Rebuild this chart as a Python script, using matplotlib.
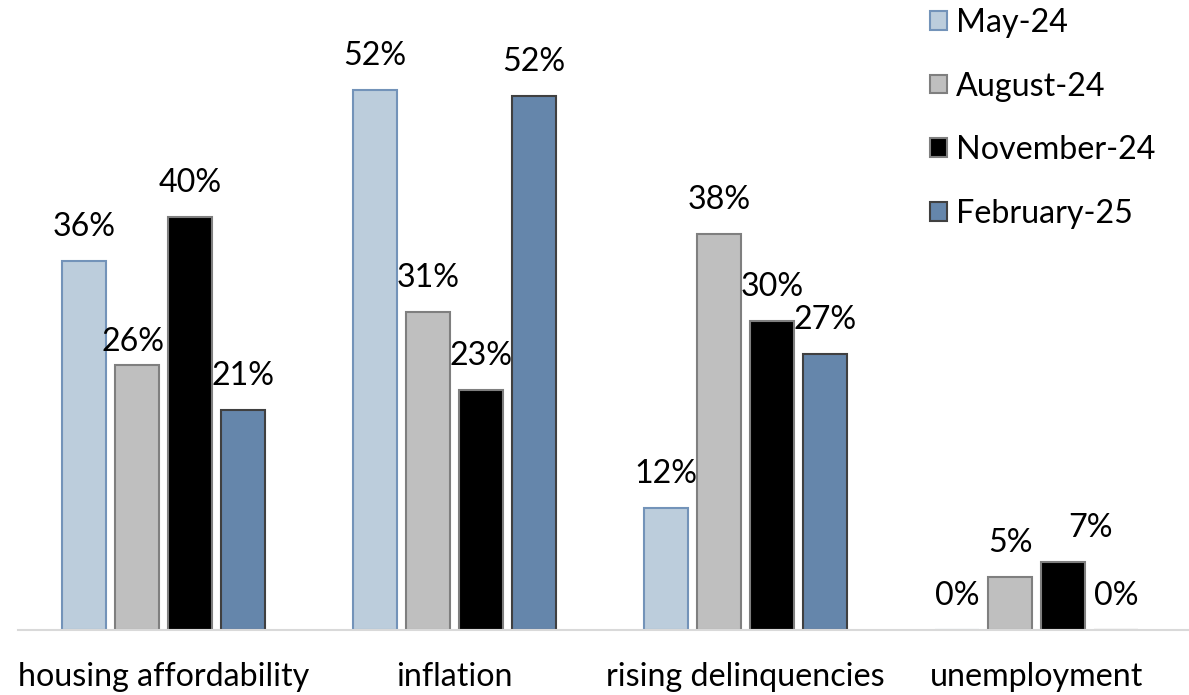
import matplotlib
matplotlib.use('Agg')
import matplotlib.pyplot as plt
import numpy as np
from matplotlib.patches import Patch

plt.rcParams['font.family'] = ['Lato', 'DejaVu Sans']

# survey shares (%) per concern and survey wave
categories = ['housing affordability', 'inflation', 'rising delinquencies', 'unemployment']
series_names = ['May-24', 'August-24', 'November-24', 'February-25']
may_24 = [35.8, 52.4, 11.8, 0.0]
aug_24 = [25.7, 30.9, 38.4, 5.1]
nov_24 = [40.1, 23.3, 30.0, 6.6]
feb_25 = [21.4, 51.8, 26.8, 0.0]

fills = ['#bccddc', '#bfbfbf', '#000000', '#6586ab']
edges = ['#7393b9', '#7f7f7f', '#7f7f7f', '#404040']

FS = 23.2

# little pixel nudges for a few crowded labels
nudge = {(1, 0): (-4, -11), (2, 3): (28, 0)}

fig = plt.figure(figsize=(11.89, 6.95), dpi=100)
ax = fig.add_axes([18 / 1189, 65 / 695, 1 - 18 / 1189, 618 / 695])

x = np.arange(len(categories))
step = 0.182
width = 0.151
all_series = [may_24, aug_24, nov_24, feb_25]
for i, vals in enumerate(all_series):
    pos = x + (i - 1.5) * step
    ax.bar(pos, vals, width=width, color=fills[i], edgecolor=edges[i], linewidth=1.5,
           label=series_names[i], zorder=2)
    for j, v in enumerate(vals):
        dx, dy = nudge.get((i, j), (0, 0))
        ax.annotate(f'{v:.0f}%', (pos[j], v), xytext=(dx * 0.72, (34 + dy) * 0.72),
                    textcoords='offset points', ha='center', va='center', fontsize=FS)

ax.set_xlim(-0.5, 3.524)
ax.set_ylim(0, 60)
for s in ['top', 'left', 'right']:
    ax.spines[s].set_visible(False)
ax.spines['bottom'].set_color('#d9d9d9')
ax.spines['bottom'].set_linewidth(1.5)
ax.set_yticks([])
ax.set_xticks(x)
ax.set_xticklabels(categories, fontsize=FS)
ax.tick_params(axis='x', length=0, pad=23)

handles = [Patch(facecolor=fills[i], edgecolor=edges[i], linewidth=1.5) for i in range(4)]
fig.legend(handles, series_names, loc='upper left', bbox_to_anchor=(930 / 1189, 1 - 8 / 695),
           frameon=False, fontsize=FS, handlelength=0.52, handleheight=0.52,
           handletextpad=0.28, labelspacing=1.04, borderpad=0, borderaxespad=0)

fig.savefig('out.png', dpi=100)
